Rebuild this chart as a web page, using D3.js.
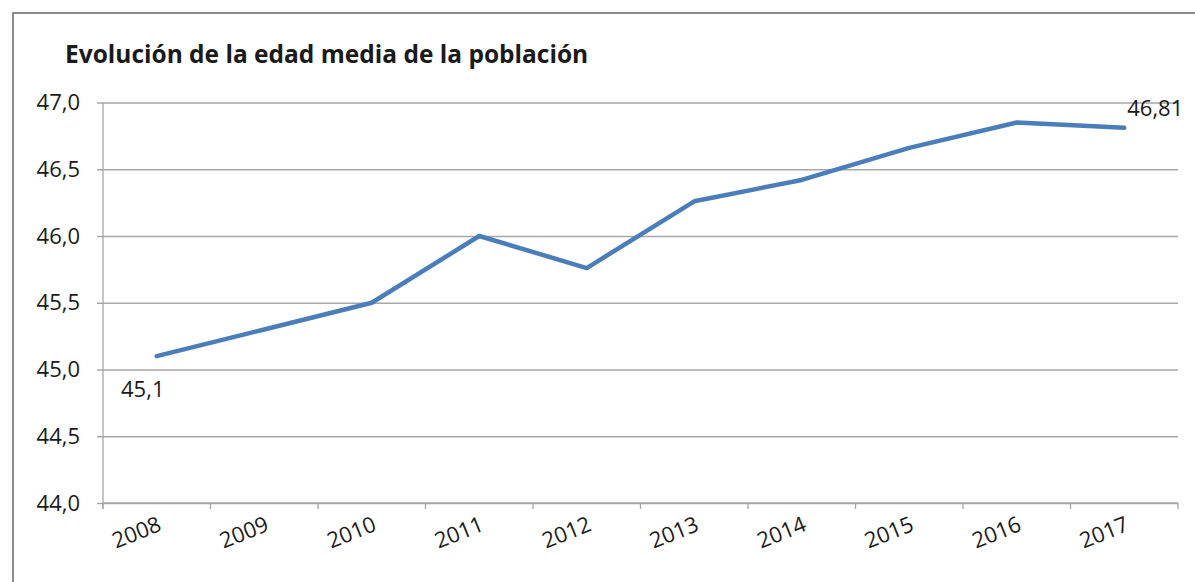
<!DOCTYPE html>
<html>
<head>
<meta charset="utf-8">
<script src="https://cdn.jsdelivr.net/npm/d3@7"></script>
<style>
  body { margin: 0; background: #fff; }
  svg text { font-family: 'Open Sans', sans-serif; fill: #1a1a1a; }
</style>
</head>
<body>
<div id="chart"></div>
<script>
var years = ['2008', '2009', '2010', '2011', '2012', '2013', '2014', '2015', '2016', '2017'];
var edadMedia = [45.1, 45.3, 45.5, 46.0, 45.76, 46.26, 46.42, 46.66, 46.85, 46.81];
var yTicks = [44.0, 44.5, 45.0, 45.5, 46.0, 46.5, 47.0];
var titulo = 'Evolución de la edad media de la población';

var width = 1195, height = 582;
var margin = {top: 102.5, right: 17, bottom: 79, left: 103};

var svg = d3.select('#chart')
  .append('svg')
  .attr('width', width)
  .attr('height', height);

// chart frame (only left and top visible)
svg.append('rect')
  .attr('x', 13)
  .attr('y', 13)
  .attr('width', width + 20)
  .attr('height', height + 20)
  .attr('fill', 'none')
  .attr('stroke', '#8c8c8c')
  .attr('stroke-width', 2);

svg.append('text')
  .attr('x', 65)
  .attr('y', 63)
  .attr('font-size', '24.5px')
  .attr('font-weight', 'bold')
  .text(titulo);

var x = d3.scaleBand()
  .domain(years)
  .range([margin.left, width - margin.right])
  .padding(0);

var y = d3.scaleLinear()
  .domain([44, 47])
  .range([height - margin.bottom, margin.top]);

// gridlines + y axis
var yAxis = svg.append('g')
  .attr('transform', 'translate(' + margin.left + ',0)')
  .call(d3.axisLeft(y)
    .tickValues(yTicks)
    .tickSize(-(width - margin.right - margin.left))
    .tickSizeOuter(0)
    .tickPadding(23)
    .tickFormat(function (d) { return d3.format('.1f')(d).replace('.', ','); }));

yAxis.select('.domain').remove();
yAxis.selectAll('.tick line')
  .attr('x1', -6)
  .attr('stroke', '#a6a6a6')
  .attr('stroke-width', 1.3);
yAxis.selectAll('.tick text')
  .attr('font-size', '22px')
  .attr('font-family', "'Open Sans', sans-serif")
  .attr('fill', '#1a1a1a');

svg.append('line')
  .attr('x1', margin.left)
  .attr('x2', margin.left)
  .attr('y1', margin.top)
  .attr('y2', height - margin.bottom + 6)
  .attr('stroke', '#a6a6a6')
  .attr('stroke-width', 1.3);

// x axis
var xAxisG = svg.append('g')
  .attr('transform', 'translate(0,' + (height - margin.bottom) + ')');

xAxisG.append('line')
  .attr('x1', margin.left)
  .attr('x2', width - margin.right)
  .attr('stroke', '#a6a6a6')
  .attr('stroke-width', 1.3);

var tickPos = years.map(function (d) { return x(d); }).concat([x(years[years.length - 1]) + x.bandwidth()]);
xAxisG.selectAll('.xtick')
  .data(tickPos)
  .enter()
  .append('line')
  .attr('class', 'xtick')
  .attr('x1', function (d) { return d; })
  .attr('x2', function (d) { return d; })
  .attr('y1', 0)
  .attr('y2', 6)
  .attr('stroke', '#a6a6a6')
  .attr('stroke-width', 1.3);

xAxisG.selectAll('.xlabel')
  .data(years)
  .enter()
  .append('text')
  .attr('class', 'xlabel')
  .attr('text-anchor', 'end')
  .attr('font-size', '22px')
  .attr('transform', function (d) {
    return 'translate(' + (x(d) + x.bandwidth() / 2 + 6) + ',27) rotate(-22)';
  })
  .text(function (d) { return d; });

// line
var line = d3.line()
  .x(function (d, i) { return x(years[i]) + x.bandwidth() / 2; })
  .y(function (d) { return y(d); });

svg.append('path')
  .datum(edadMedia)
  .attr('fill', 'none')
  .attr('stroke', '#4a7ebb')
  .attr('stroke-width', 4.5)
  .attr('stroke-linejoin', 'round')
  .attr('stroke-linecap', 'round')
  .attr('d', line);

// data labels for first and last points
var fmt = function (d) { return String(d).replace('.', ','); };
var first = 0, last = edadMedia.length - 1;

svg.append('text')
  .attr('x', x(years[first]) + x.bandwidth() / 2 - 14)
  .attr('y', y(edadMedia[first]) + 41)
  .attr('font-size', '22px')
  .attr('text-anchor', 'middle')
  .text(fmt(edadMedia[first]));

svg.append('text')
  .attr('x', x(years[last]) + x.bandwidth() / 2 + 3)
  .attr('y', y(edadMedia[last]) - 12)
  .attr('font-size', '22px')
  .attr('text-anchor', 'start')
  .text(fmt(edadMedia[last]));
</script>
</body>
</html>
